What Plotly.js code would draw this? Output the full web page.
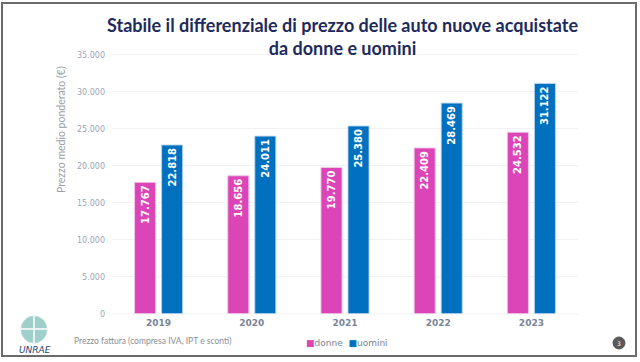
<!DOCTYPE html>
<html>
<head>
<meta charset="utf-8">
<script src="https://cdn.plot.ly/plotly-3.0.1.min.js"></script>
<style>html,body{margin:0;padding:0;background:#fff;}#chart{width:640px;height:362px;}</style>
</head>
<body>
<div id="chart"></div>
<script>
const years = ['2019', '2020', '2021', '2022', '2023'];
const donne = [17767, 18656, 19770, 22409, 24532];
const uomini = [22818, 24011, 25380, 28469, 31122];
const seriesNames = ['donne', 'uomini'];
const titleText = 'Stabile il differenziale di prezzo delle auto nuove acquistate<br>da donne e uomini';
const yTitle = 'Prezzo medio ponderato (€)';
const footNote = 'Prezzo fattura (compresa IVA, IPT e sconti)';

const pink = '#dc45b7';
const blue = '#0171bf';

function px2x(p) { return (p - 112) / 466; }
function px2y(p) { return (314 - p) / 263; }

const barText = {family: 'DejaVu Sans', size: 10, color: '#ffffff', weight: 'bold'};

const traces = [
  {type: 'bar', name: seriesNames[0], x: years, y: donne,
   marker: {color: pink, line: {color: 'rgba(240,200,230,0.9)', width: 1}},
   texttemplate: '%{y:,.0f}', textposition: 'inside', insidetextanchor: 'end',
   textangle: -90, textfont: barText, hoverinfo: 'none'},
  {type: 'bar', name: seriesNames[1], x: years, y: uomini,
   marker: {color: blue, line: {color: 'rgba(190,215,240,0.9)', width: 1}},
   texttemplate: '%{y:,.0f}', textposition: 'inside', insidetextanchor: 'end',
   textangle: -90, textfont: barText, hoverinfo: 'none'}
];

const layout = {
  width: 640, height: 362,
  margin: {l: 112, r: 62, t: 51, b: 48, pad: 0},
  paper_bgcolor: '#ffffff', plot_bgcolor: '#ffffff',
  separators: ',.',
  barmode: 'group', bargap: 0.42, bargroupgap: 0.22,
  showlegend: false,
  font: {family: 'Lato, DejaVu Sans', color: '#7a8699'},
  title: {text: '', font: {size: 1}},
  xaxis: {type: 'category', showgrid: false, zeroline: false, showline: false,
          ticks: '', tickfont: {family: 'DejaVu Sans', size: 9, color: '#7a8597', weight: 'bold'},
          ticklabelstandoff: 2},
  yaxis: {range: [0, 35500], dtick: 5000, tick0: 0, tickformat: ',.0f',
          showgrid: true, gridcolor: '#f1f1f4', gridwidth: 1, zeroline: false,
          showline: false, ticks: '', ticklabelstandoff: 6,
          tickfont: {family: 'DejaVu Sans', size: 8, color: '#9aa6b8'}},
  shapes: [
    {type: 'rect', xref: 'paper', yref: 'paper',
     x0: px2x(2), x1: px2x(636), y0: px2y(356), y1: px2y(3),
     line: {color: '#6b6b6b', width: 2}, fillcolor: 'rgba(0,0,0,0)'},
    {type: 'line', xref: 'paper', yref: 'paper',
     x0: px2x(112), x1: px2x(578), y0: px2y(314), y1: px2y(314),
     line: {color: '#f1f1f4', width: 1}},
    {type: 'circle', xref: 'paper', yref: 'paper',
     x0: px2x(21), x1: px2x(47), y0: px2y(343), y1: px2y(316),
     line: {color: '#b9dcd8', width: 1}, fillcolor: '#9fcfca'},
    {type: 'line', xref: 'paper', yref: 'paper',
     x0: px2x(34), x1: px2x(34), y0: px2y(343), y1: px2y(316),
     line: {color: '#ffffff', width: 1.5}},
    {type: 'line', xref: 'paper', yref: 'paper',
     x0: px2x(21), x1: px2x(47), y0: px2y(329), y1: px2y(329),
     line: {color: '#ffffff', width: 1.5}},
    {type: 'circle', xref: 'paper', yref: 'paper',
     x0: px2x(613), x1: px2x(625), y0: px2y(349), y1: px2y(337),
     line: {color: '#555555', width: 1}, fillcolor: '#5a5a5a'}
  ],
  annotations: [
    {xref: 'paper', yref: 'paper', x: px2x(342), y: px2y(36), xanchor: 'center', yanchor: 'middle',
     text: titleText, showarrow: false,
     font: {family: 'Lato', size: 18, color: '#1d2a5b', weight: 'bold'}},
    {xref: 'paper', yref: 'paper', x: px2x(61), y: px2y(130), xanchor: 'center', yanchor: 'middle',
     text: yTitle, textangle: -90, showarrow: false,
     font: {family: 'Lato', size: 10.5, color: '#9a9ea6'}},
    {xref: 'paper', yref: 'paper', x: px2x(72), y: px2y(341), xanchor: 'left', yanchor: 'middle',
     text: footNote, showarrow: false,
     font: {family: 'Lato', size: 8.5, color: '#8a8f98'}},
    {xref: 'paper', yref: 'paper', x: px2x(304), y: px2y(343), xanchor: 'left', yanchor: 'middle',
     text: '<span style="color:' + pink + '">■</span>' + seriesNames[0] + '  <span style="color:' + blue + '">■</span>' + seriesNames[1],
     showarrow: false, font: {family: 'DejaVu Sans', size: 9, color: '#7a8290'}},
    {xref: 'paper', yref: 'paper', x: px2x(35), y: px2y(350), xanchor: 'center', yanchor: 'middle',
     text: '<i>UNRAE</i>', showarrow: false,
     font: {family: 'DejaVu Sans', size: 9, color: '#2c3f7a'}},
    {xref: 'paper', yref: 'paper', x: px2x(619), y: px2y(343), xanchor: 'center', yanchor: 'middle',
     text: '3', showarrow: false, font: {family: 'DejaVu Sans', size: 6, color: '#ffffff'}}
  ]
};

Plotly.newPlot('chart', traces, layout, {staticPlot: true, displayModeBar: false});
</script>
</body>
</html>
